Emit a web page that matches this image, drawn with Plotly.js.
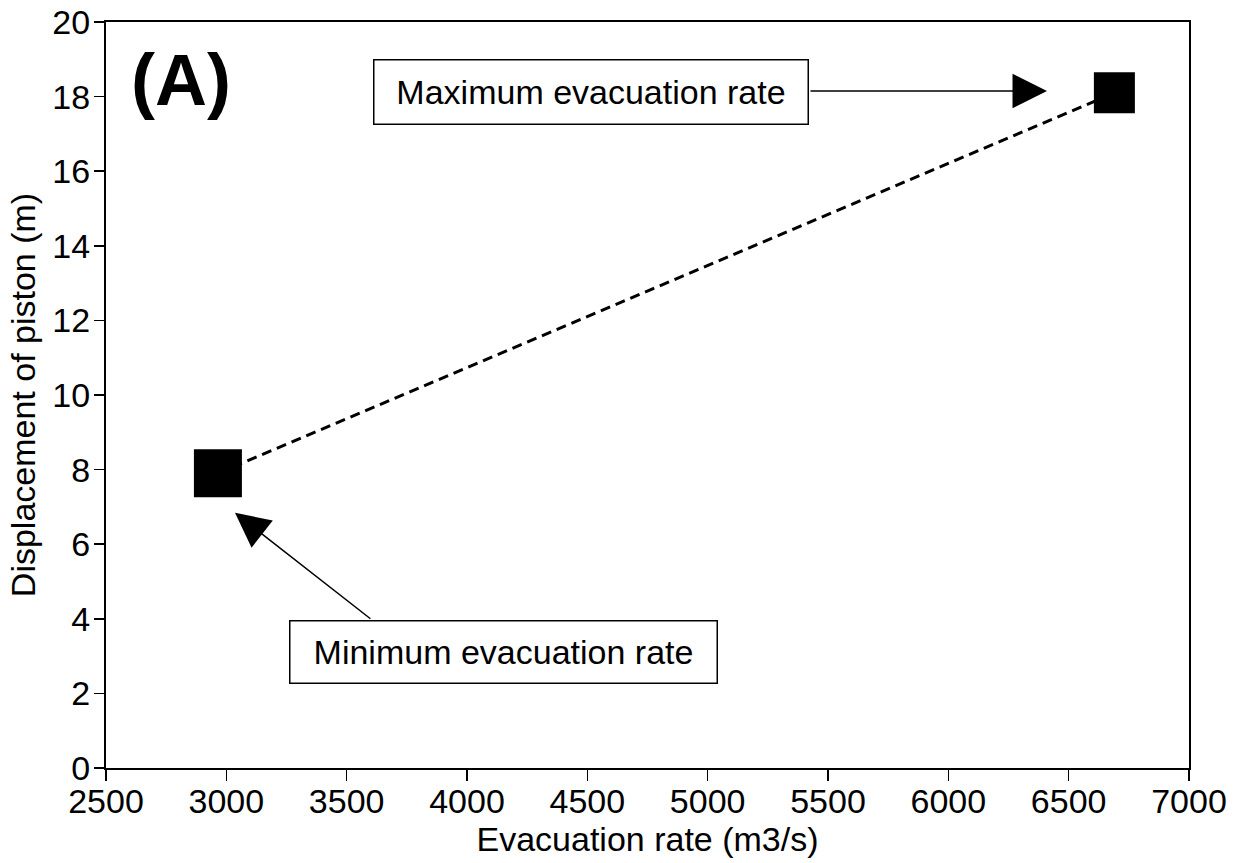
<!DOCTYPE html>
<html>
<head>
<meta charset="utf-8">
<script src="https://cdn.plot.ly/plotly-3.0.1.min.js"></script>
<style>
  html, body { margin: 0; padding: 0; background: #fff; }
  #chart { width: 1247px; height: 863px; }
</style>
</head>
<body>
<div id="chart"></div>
<script>
// Data
const evacuationRate = [2965, 6690];      // m3/s
const displacement = [7.9, 18.1];          // m
const pointLabels = ["Minimum evacuation rate", "Maximum evacuation rate"];
const xTickVals = [2500, 3000, 3500, 4000, 4500, 5000, 5500, 6000, 6500, 7000];
const yTickVals = [0, 2, 4, 6, 8, 10, 12, 14, 16, 18, 20];
const panelLabel = "(A)";

// Annotation anchors (data coordinates): arrow heads, arrow tails, label box centres
const maxArrowHead = [6410, 18.15];
const maxArrowTail = [5421, 18.15];
const maxBoxCentre = [4515, 18.12];
const minArrowHead = [3036, 6.84];
const minArrowTail = [3605, 3.97];
const minBoxCentre = [4152, 3.10];

const FONT = "Liberation Sans, Arial, Helvetica, sans-serif";
const FS = 34;

const traces = [
  {
    x: evacuationRate,
    y: displacement,
    mode: "lines",
    type: "scatter",
    line: { color: "#000", width: 3, dash: "10px,6px" },
    hoverinfo: "skip",
    showlegend: false
  },
  {
    x: [evacuationRate[0]],
    y: [displacement[0]],
    mode: "markers",
    type: "scatter",
    marker: { symbol: "square", size: 48, color: "#000", line: { width: 0 } },
    name: pointLabels[0],
    showlegend: false
  },
  {
    x: [evacuationRate[1]],
    y: [displacement[1]],
    mode: "markers",
    type: "scatter",
    marker: { symbol: "square", size: 41, color: "#000", line: { width: 0 } },
    name: pointLabels[1],
    showlegend: false
  }
];

const layout = {
  width: 1247,
  height: 863,
  margin: { l: 106, r: 58, t: 22, b: 95 },
  paper_bgcolor: "#fff",
  plot_bgcolor: "#fff",
  font: { family: FONT, color: "#000", size: FS },
  showlegend: false,
  xaxis: {
    range: [2500, 7000],
    tickvals: xTickVals,
    ticktext: xTickVals.map(String),
    ticks: "outside",
    ticklen: 11,
    tickwidth: 1.5,
    tickcolor: "#000",
    ticklabelstandoff: -9,
    showline: true,
    linecolor: "#000",
    linewidth: 2,
    mirror: true,
    showgrid: false,
    zeroline: false,
    tickfont: { family: FONT, size: FS, color: "#000" },
    title: { text: "Evacuation rate (m3/s)", font: { family: FONT, size: FS, color: "#000" }, standoff: 6 }
  },
  yaxis: {
    range: [0, 20],
    tickvals: yTickVals,
    ticktext: yTickVals.map(String),
    ticks: "outside",
    ticklen: 10,
    tickwidth: 1.5,
    tickcolor: "#000",
    ticklabelstandoff: -3,
    showline: true,
    linecolor: "#000",
    linewidth: 2,
    mirror: true,
    showgrid: false,
    zeroline: false,
    tickfont: { family: FONT, size: FS, color: "#000" },
    title: { text: "Displacement of piston (m)", font: { family: FONT, size: FS, color: "#000" }, standoff: 6 }
  },
  annotations: [
    {
      text: panelLabel,
      xref: "paper", yref: "paper",
      x: 0.0693, y: 0.922,
      xanchor: "center", yanchor: "middle",
      showarrow: false,
      font: { family: FONT, size: 72, color: "#000", weight: "bold" }
    },
    // Max label box
    {
      text: pointLabels[1],
      xref: "x", yref: "y",
      x: maxBoxCentre[0], y: maxBoxCentre[1],
      xanchor: "center", yanchor: "middle",
      showarrow: false,
      width: 433, height: 63,
      bordercolor: "#000", borderwidth: 1.5, borderpad: 0,
      bgcolor: "#fff",
      font: { family: FONT, size: FS, color: "#000" }
    },
    // Max arrow
    {
      text: "",
      xref: "x", yref: "y", axref: "x", ayref: "y",
      x: maxArrowHead[0], y: maxArrowHead[1],
      ax: maxArrowTail[0], ay: maxArrowTail[1],
      showarrow: true,
      arrowhead: 2, arrowsize: 4.6, arrowwidth: 1.5, arrowcolor: "#000"
    },
    // Min label box
    {
      text: pointLabels[0],
      xref: "x", yref: "y",
      x: minBoxCentre[0], y: minBoxCentre[1],
      xanchor: "center", yanchor: "middle",
      showarrow: false,
      width: 426, height: 61,
      bordercolor: "#000", borderwidth: 1.5, borderpad: 0,
      bgcolor: "#fff",
      font: { family: FONT, size: FS, color: "#000" }
    },
    // Min arrow
    {
      text: "",
      xref: "x", yref: "y", axref: "x", ayref: "y",
      x: minArrowHead[0], y: minArrowHead[1],
      ax: minArrowTail[0], ay: minArrowTail[1],
      showarrow: true,
      arrowhead: 2, arrowsize: 4.6, arrowwidth: 1.5, arrowcolor: "#000"
    }
  ]
};

Plotly.newPlot("chart", traces, layout, { staticPlot: true, displayModeBar: false });
</script>
</body>
</html>
